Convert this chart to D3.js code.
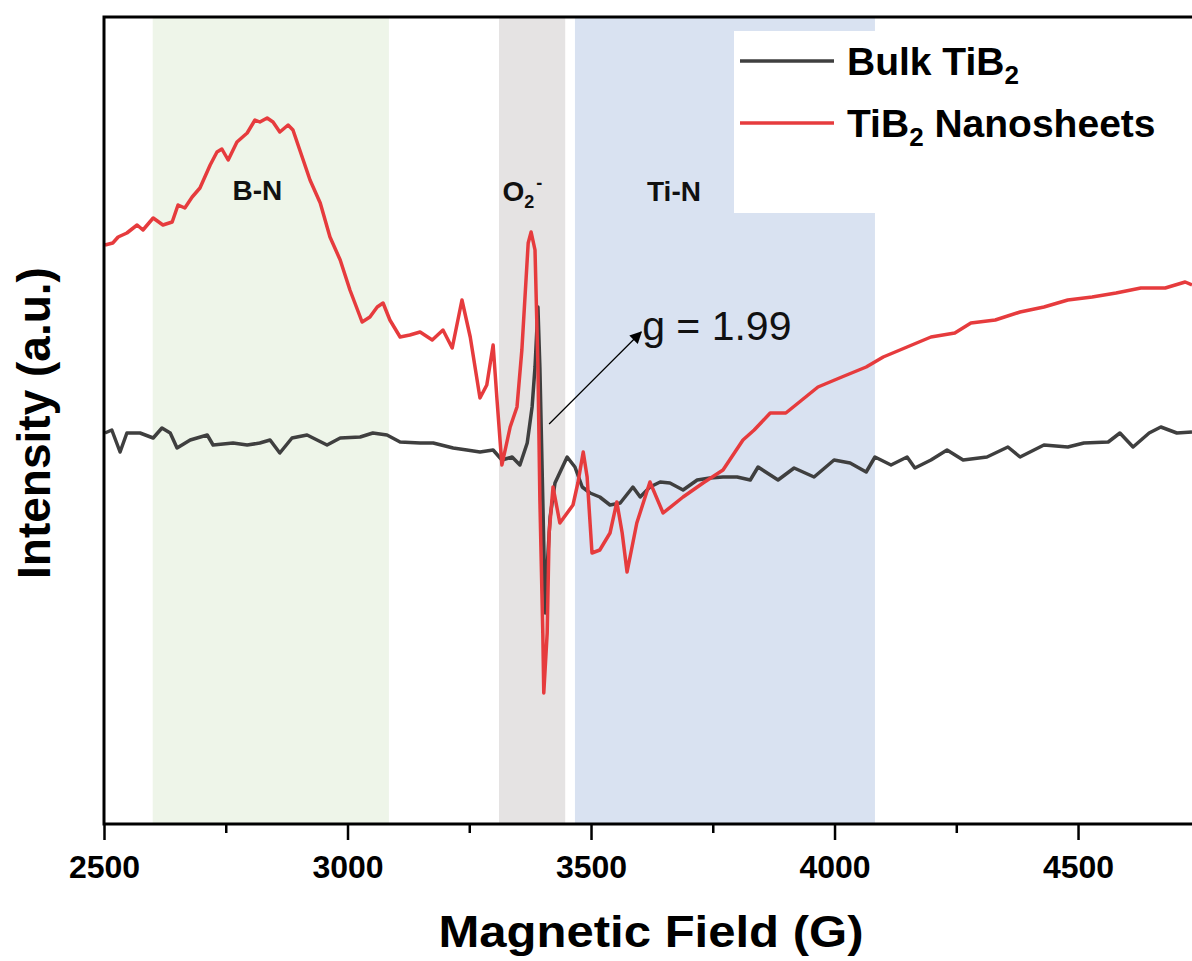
<!DOCTYPE html>
<html>
<head>
<meta charset="utf-8">
<script src="https://cdn.jsdelivr.net/npm/d3@7"></script>
<style>
  body { margin: 0; background: #fff; }
  svg text { font-family: "Liberation Sans", Arial, sans-serif; }
</style>
</head>
<body>
<svg id="epr" width="1192" height="961"></svg>
<script>
// magnetic field (G) and intensity (a.u.)
const fieldNano = [2502,2518,2529,2547,2568,2580,2601,2621,2640,2652,2666,2681,2697,2718,2732,2742,2755,2773,2794,2810,2820,2835,2847,2861,2878,2888,2902,2923,2944,2964,2985,3005,3030,3046,3061,3073,3087,3108,3128,3149,3174,3196,3215,3235,3252,3272,3286,3299,3307,3317,3334,3348,3358,3371,3377,3385,3391,3395,3401,3403,3410,3414,3422,3436,3463,3473,3484,3492,3502,3518,3539,3553,3564,3574,3594,3621,3648,3689,3730,3771,3812,3835,3868,3900,3933,3966,4015,4065,4100,4149,4198,4247,4280,4330,4381,4430,4479,4529,4578,4629,4679,4720,4734];
const intensityNano = [579,581,587,591,599,594,606,599,602,619,616,627,636,659,672,675,664,682,691,704,702,706,702,692,699,694,674,644,621,587,564,534,502,507,517,521,504,487,489,492,484,494,476,524,487,426,439,479,424,359,397,417,474,581,592,574,457,324,191,131,191,291,337,301,319,341,372,347,271,274,291,322,291,252,301,342,311,327,341,354,384,394,411,411,424,437,447,457,467,477,487,491,501,504,512,517,524,527,531,536,536,542,539];

const fieldBulk = [2502,2516,2533,2547,2574,2601,2619,2636,2650,2677,2712,2724,2765,2794,2820,2841,2861,2886,2917,2958,2985,3026,3052,3081,3108,3149,3176,3217,3245,3272,3299,3317,3338,3354,3369,3379,3385,3391,3395,3401,3406,3410,3416,3426,3451,3467,3482,3498,3518,3539,3560,3586,3601,3621,3642,3662,3689,3718,3744,3771,3800,3827,3843,3884,3917,3958,3999,4032,4065,4083,4116,4149,4165,4198,4231,4264,4313,4356,4381,4430,4479,4512,4562,4586,4613,4646,4670,4703,4734];
const intensityBulk = [391,394,372,391,391,386,396,391,376,384,389,379,381,379,381,384,371,386,389,379,386,387,391,389,382,381,381,376,374,372,374,364,367,359,381,417,457,517,457,324,211,257,307,341,367,357,337,331,327,319,321,337,327,337,342,341,334,344,346,347,347,344,357,344,356,347,364,361,352,367,359,367,356,364,374,364,367,377,367,379,377,381,382,391,377,391,397,391,392];

const majorTicks = [2500, 3000, 3500, 4000, 4500];
const minorTicks = [2750, 3250, 3750, 4250];

// shaded regions
const bandStart = [2600, 3311, 3467];
const bandEnd = [3085, 3447, 4083];
const bandColors = ["#eef5e9", "#e5e3e3", "#d9e2f1"];

const seriesNames = ["Bulk TiB", "TiB"];
const seriesColors = ["#3f3f3f", "#e63b3d"];

const svg = d3.select("#epr");
const mLeft = 104, mTop = 17, mBottom = 824, mRight = 1192;

const x = d3.scaleLinear().domain([2500, 4734]).range([mLeft, mRight]);
const y = d3.scaleLinear().domain([0, 807]).range([mBottom, mTop]);

// bands
svg.append("g").selectAll("rect")
  .data(bandStart)
  .join("rect")
  .attr("x", (d, i) => x(d))
  .attr("width", (d, i) => x(bandEnd[i]) - x(d))
  .attr("y", mTop)
  .attr("height", mBottom - mTop)
  .attr("fill", (d, i) => bandColors[i]);

// white legend box over the blue band
svg.append("rect")
  .attr("x", 734).attr("y", 31)
  .attr("width", 450).attr("height", 182)
  .attr("fill", "#fff");

// curves
const line = d3.line()
  .x(d => x(d[0]))
  .y(d => y(d[1]));

const bulk = fieldBulk.map((f, i) => [f, intensityBulk[i]]);
const nano = fieldNano.map((f, i) => [f, intensityNano[i]]);

svg.append("path")
  .datum(bulk)
  .attr("d", line)
  .attr("fill", "none")
  .attr("stroke", seriesColors[0])
  .attr("stroke-width", 3.5)
  .attr("stroke-linejoin", "round");

svg.append("path")
  .datum(nano)
  .attr("d", line)
  .attr("fill", "none")
  .attr("stroke", seriesColors[1])
  .attr("stroke-width", 3.5)
  .attr("stroke-linejoin", "round");

// band labels
const lab = svg.append("g")
  .style("font-family", "'Open Sans', sans-serif")
  .style("font-weight", 700)
  .style("font-size", "28px")
  .attr("fill", "#111");

lab.append("text").attr("x", x(2764)).attr("y", y(624)).text("B-N");
const o2 = lab.append("text").attr("x", x(3318)).attr("y", y(623));
o2.append("tspan").text("O");
o2.append("tspan").attr("font-size", "18px").attr("dy", 7).text("2");
o2.append("tspan").attr("font-size", "18px").attr("dy", -19).attr("dx", 2).text("-");
lab.append("text").attr("x", x(3615)).attr("y", y(623)).text("Ti-N");

// g-factor arrow
svg.append("defs").append("marker")
  .attr("id", "head")
  .attr("viewBox", "0 0 10 10")
  .attr("refX", 9).attr("refY", 5)
  .attr("markerWidth", 13).attr("markerHeight", 10)
  .attr("orient", "auto")
  .append("path")
  .attr("d", "M0,0L10,5L0,10z")
  .attr("fill", "#000");

svg.append("line")
  .attr("x1", x(3414)).attr("y1", y(400))
  .attr("x2", x(3603)).attr("y2", y(492))
  .attr("stroke", "#000")
  .attr("stroke-width", 1.2)
  .attr("marker-end", "url(#head)");

svg.append("text")
  .attr("x", x(3605)).attr("y", y(484))
  .style("font-size", "41px")
  .attr("fill", "#111")
  .text("g = 1.99");

// legend
const leg = svg.append("g");
[61, 123].forEach((ly, i) => {
  leg.append("line")
    .attr("x1", 740).attr("x2", 834)
    .attr("y1", ly).attr("y2", ly)
    .attr("stroke", seriesColors[i])
    .attr("stroke-width", 3.5);
});
const t1 = leg.append("text").attr("x", 847).attr("y", 75)
  .style("font-size", "39px").style("font-weight", 700);
t1.append("tspan").text(seriesNames[0]);
t1.append("tspan").attr("font-size", "26px").attr("dy", 9).text("2");

const t2 = leg.append("text").attr("x", 847).attr("y", 137)
  .style("font-size", "39px").style("font-weight", 700);
t2.append("tspan").text(seriesNames[1]);
t2.append("tspan").attr("font-size", "26px").attr("dy", 9).text("2");
t2.append("tspan").attr("dy", -9).text(" Nanosheets");

// axes
const xAxis = svg.append("g")
  .attr("transform", `translate(0,${mBottom})`)
  .call(d3.axisBottom(x).tickValues(majorTicks).tickSize(16).tickPadding(15).tickFormat(d3.format("d")));
xAxis.select(".domain").remove();
xAxis.selectAll(".tick line").attr("stroke-width", 2.5);
xAxis.selectAll(".tick text")
  .style("font-size", "32px")
  .style("font-weight", 700)
  .style("font-family", "'Liberation Sans', Arial, sans-serif")
  .attr("fill", "#000");

const xMinor = svg.append("g")
  .attr("transform", `translate(0,${mBottom})`)
  .call(d3.axisBottom(x).tickValues(minorTicks).tickSize(9).tickFormat(""));
xMinor.select(".domain").remove();
xMinor.selectAll(".tick line").attr("stroke-width", 2.5);

// frame: bottom, left and top
svg.append("path")
  .attr("d", `M${mRight},${mTop}H${mLeft}V${mBottom}H${mRight}`)
  .attr("fill", "none")
  .attr("stroke", "#000")
  .attr("stroke-width", 3);

// axis titles
svg.append("text")
  .attr("x", 651).attr("y", 947)
  .attr("text-anchor", "middle")
  .attr("textLength", 425)
  .attr("lengthAdjust", "spacingAndGlyphs")
  .style("font-size", "44px")
  .style("font-weight", 700)
  .text("Magnetic Field (G)");

svg.append("text")
  .attr("transform", "translate(50,423) rotate(-90)")
  .attr("text-anchor", "middle")
  .style("font-size", "46px")
  .style("font-weight", 700)
  .text("Intensity (a.u.)");
</script>
</body>
</html>
